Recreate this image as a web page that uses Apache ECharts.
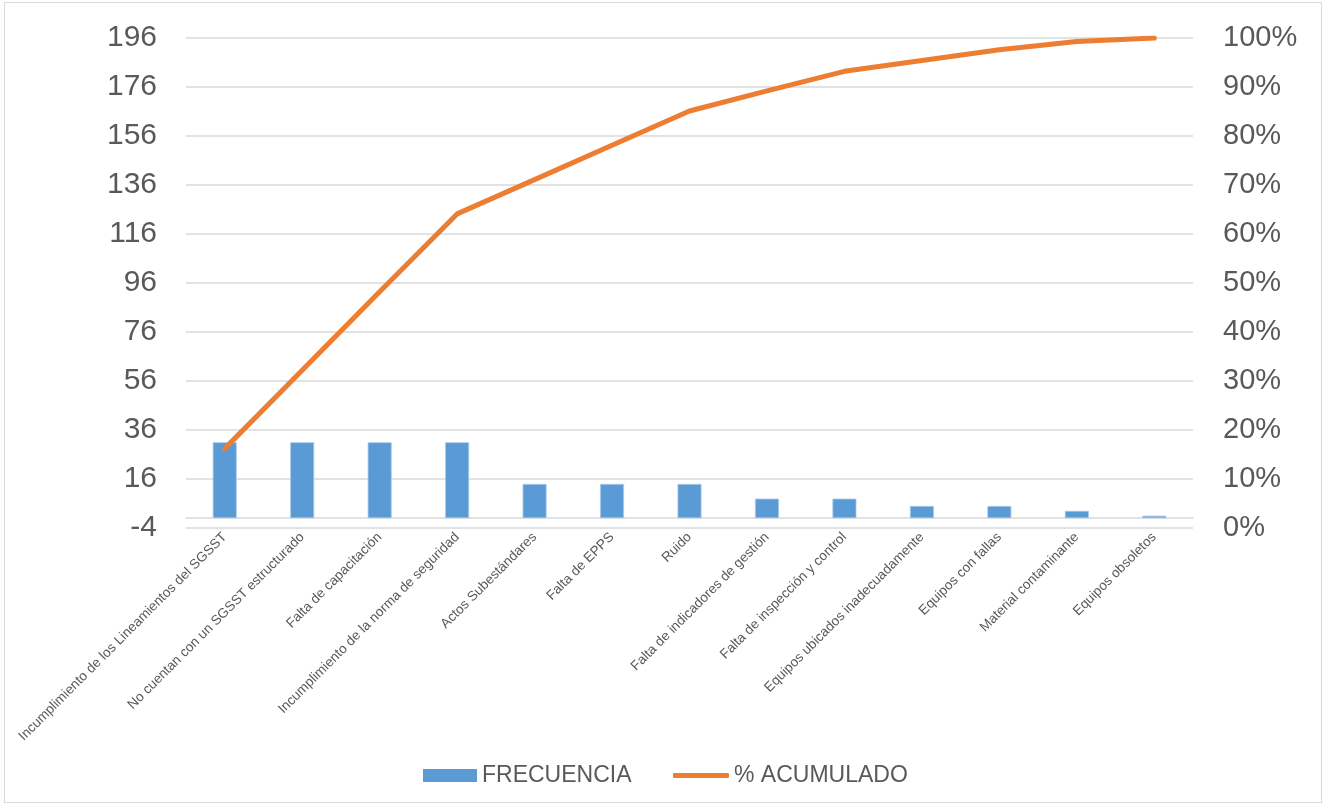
<!DOCTYPE html>
<html>
<head>
<meta charset="utf-8">
<script src="https://cdn.jsdelivr.net/npm/echarts@6/dist/echarts.min.js"></script>
<style>
  html, body { margin: 0; padding: 0; background: #ffffff; }
  #frame { position: absolute; left: 4px; top: 2px; width: 1318px; height: 801px; border: 1px solid #d9d9d9; box-sizing: border-box; }
  #chart { position: absolute; left: 0; top: 0; width: 1325px; height: 807px; }
</style>
</head>
<body>
<div id="frame"></div>
<div id="chart"></div>
<script>
const categories = [
  "Incumplimiento de los Lineamientos del SGSST",
  "No cuentan con un SGSST estructurado",
  "Falta de capacitación",
  "Incumplimiento de la norma de seguridad",
  "Actos Subestándares",
  "Falta de EPPS",
  "Ruido",
  "Falta de indicadores de gestión",
  "Falta de inspección y control",
  "Equipos ubicados inadecuadamente",
  "Equipos con fallas",
  "Material contaminante",
  "Equipos obsoletos"
];
const frecuencia = [31, 31, 31, 31, 14, 14, 14, 8, 8, 5, 5, 3, 1];
const acumulado = [16.2, 32.2, 48.2, 64.1, 71.1, 78.1, 85.1, 89.2, 93.2, 95.4, 97.6, 99.3, 100];
const leftTicks = { min: -4, max: 196, interval: 20 };
const rightTicks = { min: 0, max: 100, interval: 10 };

const chart = echarts.init(document.getElementById('chart'), null, { renderer: 'canvas' });
const txt = '#595959';
const font = 'Liberation Sans, Arial, sans-serif';
chart.setOption({
  animation: false,
  textStyle: { fontFamily: font },
  grid: { left: 186, right: 132, top: 38, bottom: 279, containLabel: false },
  legend: [
    {
      left: 418,
      top: 759,
      itemWidth: 54,
      itemHeight: 13,
      itemGap: 0,
      textStyle: { color: txt, fontSize: 23, fontFamily: font },
      itemStyle: { borderWidth: 0 },
      data: [{ name: 'FRECUENCIA', icon: 'rect' }]
    },
    {
      left: 668,
      top: 759,
      itemWidth: 56,
      itemHeight: 5,
      itemGap: 0,
      textStyle: { color: txt, fontSize: 23, fontFamily: font },
      data: [{ name: '% ACUMULADO', icon: 'roundRect' }]
    }
  ],
  xAxis: {
    type: 'category',
    data: categories,
    axisLine: { onZero: true, lineStyle: { color: '#d9d9d9', width: 1.5 } },
    axisTick: { show: false },
    axisLabel: { rotate: 45, interval: 0, color: txt, fontSize: 13.6, fontFamily: font, margin: 7 }
  },
  yAxis: [
    {
      type: 'value',
      min: leftTicks.min, max: leftTicks.max, interval: leftTicks.interval,
      axisLine: { show: false },
      axisTick: { show: false },
      axisLabel: { color: txt, fontSize: 30, fontFamily: font, margin: 29 },
      splitLine: { lineStyle: { color: '#d9d9d9', width: 1.5 } }
    },
    {
      type: 'value',
      min: rightTicks.min, max: rightTicks.max, interval: rightTicks.interval,
      axisLine: { show: false },
      axisTick: { show: false },
      axisLabel: { color: txt, fontSize: 29, fontFamily: font, margin: 30, formatter: '{value}%' },
      splitLine: { show: false }
    }
  ],
  series: [
    {
      name: 'FRECUENCIA',
      type: 'bar',
      data: frecuencia,
      barWidth: 24,
      itemStyle: { color: '#5b9bd5', borderColor: '#a9c8ea', borderWidth: 0.8 },
      yAxisIndex: 0
    },
    {
      name: '% ACUMULADO',
      type: 'line',
      data: acumulado,
      yAxisIndex: 1,
      symbol: 'none',
      lineStyle: { color: '#ed7d31', width: 5, cap: 'round', join: 'round' },
      itemStyle: { color: '#ed7d31' }
    }
  ]
});
</script>
</body>
</html>
